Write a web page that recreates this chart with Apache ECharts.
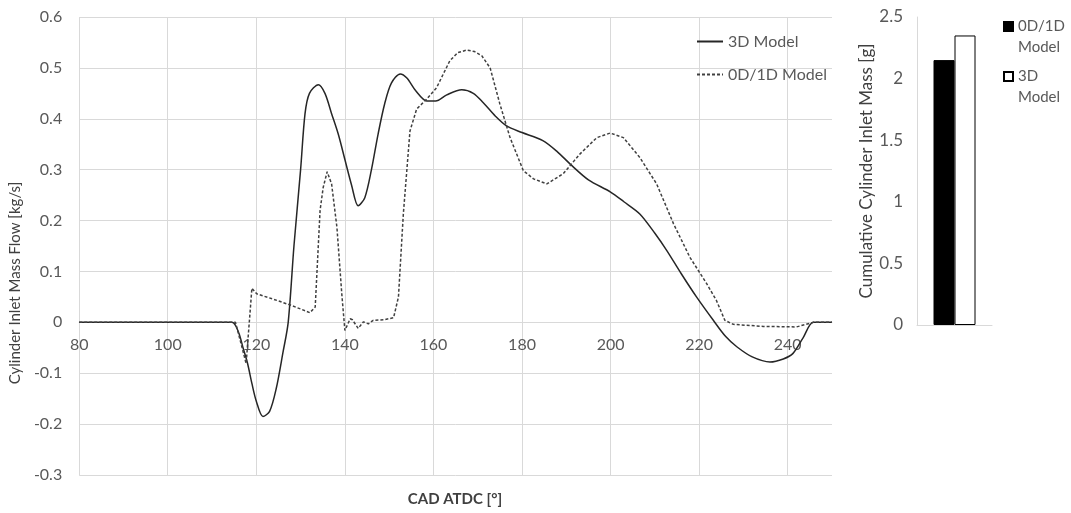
<!DOCTYPE html>
<html>
<head>
<meta charset="utf-8">
<script src="https://cdn.jsdelivr.net/npm/echarts@6/dist/echarts.min.js"></script>
<style>html,body{margin:0;padding:0;background:#fff;}#c{width:1071px;height:513px;}</style>
</head>
<body>
<div id="c"></div>
<script>
// ---- data ----
var xTicks = [80, 100, 120, 140, 160, 180, 200, 220, 240];
var yTicks = [-0.3, -0.2, -0.1, 0, 0.1, 0.2, 0.3, 0.4, 0.5, 0.6];

var cad3D = [80, 100, 114.5, 116, 117, 118, 119, 120, 121.5, 123, 124.5, 126, 127.2, 128.5, 130, 131, 132, 134, 135.5, 137, 138.5, 140, 141.5, 143, 144.5, 146, 147.5, 149, 150.5, 152.5, 154, 156, 158.5, 160.5, 163, 166.4, 169, 171.2, 174, 176.5, 180, 184.7, 188, 191, 195, 200, 203, 206.6, 210, 212.7, 216, 219.4, 223.2, 226, 228.5, 232, 236, 239, 241.2, 243.5, 245.8, 250];
var flow3D = [0, 0, 0, -0.02, -0.05, -0.08, -0.12, -0.155, -0.185, -0.175, -0.13, -0.06, 0, 0.15, 0.3, 0.41, 0.45, 0.467, 0.45, 0.41, 0.37, 0.32, 0.27, 0.229, 0.245, 0.3, 0.37, 0.43, 0.47, 0.488, 0.48, 0.455, 0.435, 0.435, 0.447, 0.457, 0.45, 0.432, 0.405, 0.386, 0.373, 0.357, 0.335, 0.31, 0.28, 0.256, 0.237, 0.213, 0.175, 0.141, 0.095, 0.05, 0.004, -0.028, -0.048, -0.068, -0.078, -0.072, -0.061, -0.03, 0, 0];

var cad1D = [80, 100, 115.3, 116.5, 117.7, 119, 120.1, 124, 128, 132.1, 133.3, 134.4, 135.1, 136, 137, 138.2, 139.3, 140, 141.2, 141.7, 143, 144.2, 145.3, 146.4, 148.7, 151, 152.1, 153.2, 154.7, 156.2, 158.5, 160.7, 163.7, 165.5, 167.5, 169.3, 170.9, 172.8, 175, 177.3, 180.3, 182.6, 185.6, 189.3, 193.1, 196.9, 199.9, 202.9, 206.6, 210.4, 214.2, 217.9, 221.7, 223.9, 225.8, 227.7, 234.5, 242, 245.8, 250];
var flow1D = [0, 0, 0, -0.04, -0.081, 0.067, 0.056, 0.045, 0.033, 0.019, 0.03, 0.22, 0.265, 0.296, 0.272, 0.187, 0.056, -0.016, 0.007, 0.005, -0.012, 0.001, -0.003, 0.004, 0.005, 0.009, 0.05, 0.213, 0.376, 0.419, 0.439, 0.461, 0.514, 0.53, 0.535, 0.532, 0.524, 0.5, 0.429, 0.363, 0.298, 0.282, 0.272, 0.292, 0.331, 0.363, 0.372, 0.363, 0.324, 0.272, 0.194, 0.128, 0.076, 0.043, 0.004, -0.004, -0.008, -0.009, 0, 0];

var barCategories = [''];
var barNames = ['0D/1D Model', '3D Model'];
var barValues = [2.15, 2.35];

function zip(a, b) { return a.map(function (v, i) { return [v, b[i]]; }); }

var FONT = 'Lato';
var TXT = '#595959';
var GRID = '#d9d9d9';
var BAR_PREFIX = 'bar: ';

var chart = echarts.init(document.getElementById('c'));
chart.setOption({
  animation: false,
  backgroundColor: '#fff',
  textStyle: { fontFamily: FONT },
  title: {
    text: 'CAD ATDC [°]', left: 450, top: 487, textAlign: 'center',
    textStyle: { fontFamily: FONT, fontSize: 15, fontWeight: 'bold', color: '#404040' }
  },
  grid: [
    { left: 79, right: 239, top: 17, bottom: 38 },
    { left: 917, right: 79, top: 17, bottom: 188 }
  ],
  legend: [
    {
      orient: 'vertical', left: 691, top: 27, itemWidth: 26, itemHeight: 14, itemGap: 14,
      data: ['3D Model', '0D/1D Model'],
      itemStyle: { opacity: 0 },
      textStyle: { fontFamily: FONT, fontSize: 16, color: TXT, lineHeight: 19 }
    },
    {
      orient: 'vertical', left: 998, top: -10, itemWidth: 9, itemHeight: 9, itemGap: -13,
      icon: 'rect',
      data: barNames.map(function (n) { return BAR_PREFIX + n; }),
      formatter: function (n) { return '\n' + n.replace(BAR_PREFIX, '').replace(' ', '\n'); },
      textStyle: { fontFamily: FONT, fontSize: 15, color: TXT, lineHeight: 21 }
    }
  ],
  xAxis: [
    {
      gridIndex: 0, type: 'value', min: 80, max: 250, interval: 20,
      offset: -152.7,
      axisLine: { onZero: false, lineStyle: { color: GRID } },
      axisTick: { show: false },
      axisLabel: { margin: 15, fontSize: 16, color: TXT, fontFamily: FONT, showMaxLabel: false,
        formatter: function (v) { return xTicks.indexOf(v) >= 0 ? String(v) : ''; } },
      splitLine: { show: true, showMaxLine: false, lineStyle: { color: GRID } }
    },
    {
      gridIndex: 1, type: 'category', data: barCategories,
      axisLine: { lineStyle: { color: GRID } },
      axisTick: { show: false }, axisLabel: { show: false }
    }
  ],
  yAxis: [
    {
      gridIndex: 0, type: 'value', min: -0.3, max: 0.6, interval: 0.1,
      name: 'Cylinder Inlet Mass Flow [kg/s]', nameLocation: 'middle', nameGap: 53,
      nameTextStyle: { fontFamily: FONT, fontSize: 15, color: '#404040', padding: [0, 74, 0, 0] },
      axisLine: { show: false }, axisTick: { show: false },
      axisLabel: { margin: 17, fontSize: 16, color: TXT, fontFamily: FONT,
        formatter: function (v) { var r = Math.round(v * 10) / 10; return r === 0 ? '0' : String(r); } },
      splitLine: { show: true, lineStyle: { color: GRID } }
    },
    {
      gridIndex: 1, type: 'value', min: 0, max: 2.5, interval: 0.5,
      name: 'Cumulative Cylinder Inlet Mass [g]', nameLocation: 'middle', nameGap: 35,
      nameTextStyle: { fontFamily: FONT, fontSize: 17, color: '#404040' },
      axisLine: { show: true, lineStyle: { color: GRID } }, axisTick: { show: false },
      axisLabel: { margin: 14, fontSize: 17, color: TXT, fontFamily: FONT },
      splitLine: { show: false }
    }
  ],
  series: [
    {
      name: '3D Model', type: 'line', xAxisIndex: 0, yAxisIndex: 0,
      data: zip(cad3D, flow3D), symbol: 'none', smooth: 0.3,
      lineStyle: { color: '#262626', width: 1.5, type: 'solid' },
      itemStyle: { color: '#262626' }
    },
    {
      name: '0D/1D Model', type: 'line', xAxisIndex: 0, yAxisIndex: 0,
      data: zip(cad1D, flow1D), symbol: 'none', smooth: false,
      lineStyle: { color: '#404040', width: 1.5, type: [3, 2] },
      itemStyle: { color: '#404040' }
    },
    {
      name: BAR_PREFIX + barNames[0], type: 'bar', xAxisIndex: 1, yAxisIndex: 1,
      data: [barValues[0]], barWidth: 21, barGap: '0%',
      itemStyle: { color: '#000', borderColor: '#000', borderWidth: 1 }
    },
    {
      name: BAR_PREFIX + barNames[1], type: 'bar', xAxisIndex: 1, yAxisIndex: 1,
      data: [barValues[1]], barWidth: 21, barGap: '0%',
      itemStyle: { color: '#fff', borderColor: '#000', borderWidth: 1 }
    }
  ]
});
</script>
</body>
</html>
